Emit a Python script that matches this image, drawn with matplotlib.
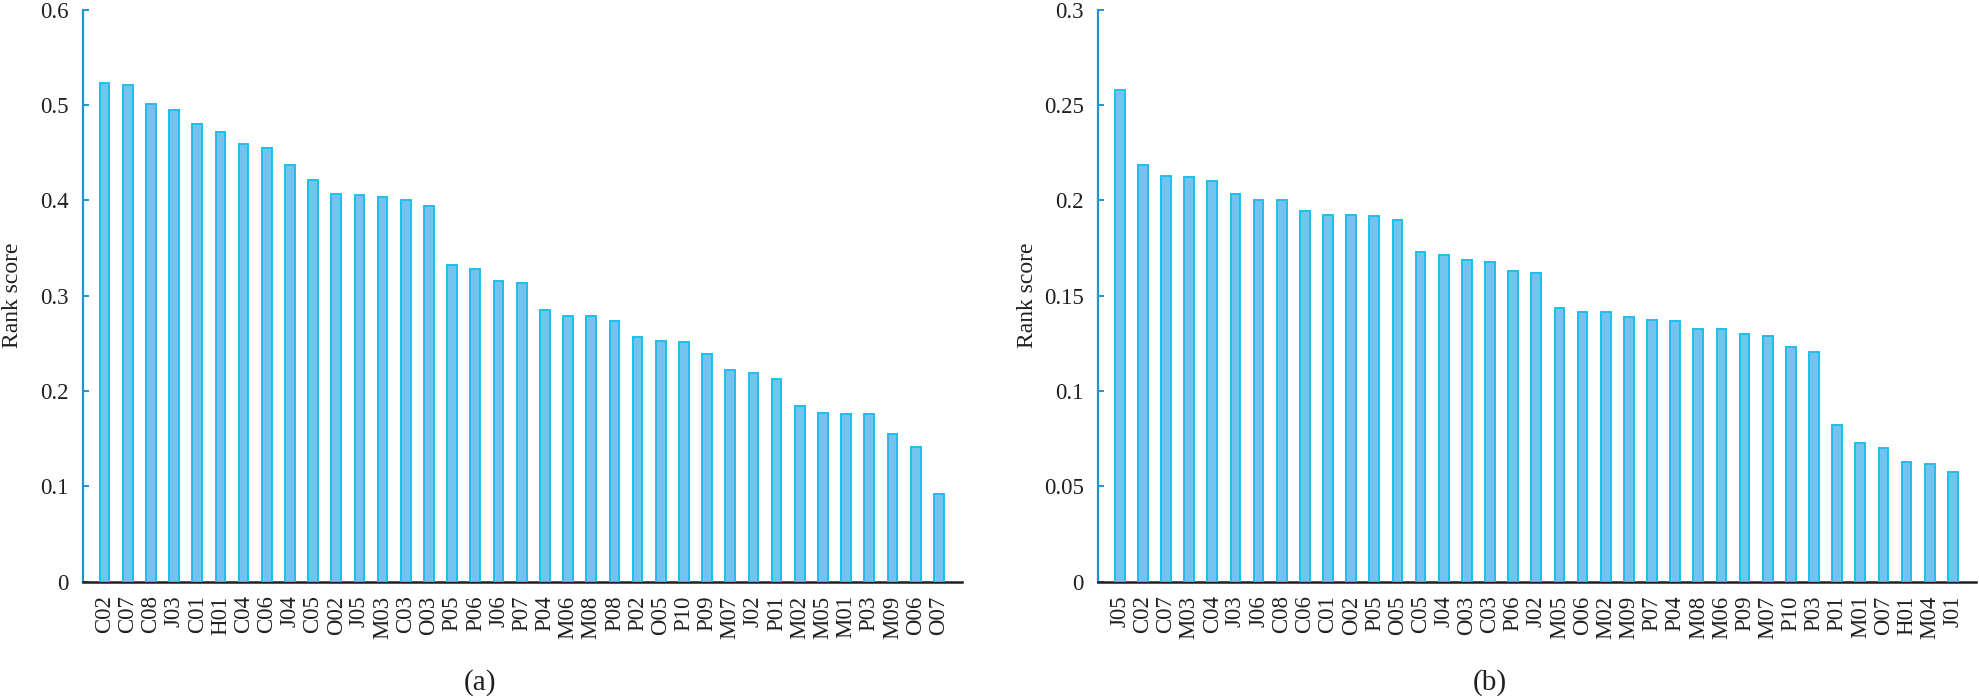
import matplotlib
matplotlib.use("Agg")
import matplotlib.pyplot as plt
import numpy as np

plt.rcParams['font.family'] = ['Liberation Serif', 'DejaVu Serif']

# panel (a)
labels_a = ["C02", "C07", "C08", "J03", "C01", "H01", "C04", "C06", "J04", "C05",
            "O02", "J05", "M03", "C03", "O03", "P05", "P06", "J06", "P07", "P04",
            "M06", "M08", "P08", "P02", "O05", "P10", "P09", "M07", "J02", "P01",
            "M02", "M05", "M01", "P03", "M09", "O06", "O07"]
scores_a = [0.523, 0.521, 0.501, 0.495, 0.480, 0.472, 0.459, 0.455, 0.437, 0.421,
            0.407, 0.406, 0.404, 0.400, 0.394, 0.332, 0.328, 0.316, 0.313, 0.285,
            0.279, 0.279, 0.273, 0.257, 0.252, 0.251, 0.239, 0.222, 0.219, 0.213,
            0.184, 0.177, 0.176, 0.176, 0.155, 0.141, 0.092]
yticks_a = [0, 0.1, 0.2, 0.3, 0.4, 0.5, 0.6]
yticklabels_a = ["0", "0.1", "0.2", "0.3", "0.4", "0.5", "0.6"]

# panel (b)
labels_b = ["J05", "C02", "C07", "M03", "C04", "J03", "J06", "C08", "C06", "C01",
            "O02", "P05", "O05", "C05", "J04", "O03", "C03", "P06", "J02", "M05",
            "O06", "M02", "M09", "P07", "P04", "M08", "M06", "P09", "M07", "P10",
            "P03", "P01", "M01", "O07", "H01", "M04", "J01"]
scores_b = [0.258, 0.2186, 0.2129, 0.2123, 0.2102, 0.2034, 0.2003, 0.2003, 0.1945, 0.1924,
            0.1924, 0.1919, 0.1898, 0.1730, 0.1714, 0.1688, 0.1677, 0.1630, 0.1619, 0.1436,
            0.1415, 0.1415, 0.1388, 0.1373, 0.1367, 0.1325, 0.1325, 0.1299, 0.1289, 0.1231,
            0.1205, 0.0822, 0.0727, 0.0701, 0.0627, 0.0617, 0.0575]
yticks_b = [0, 0.05, 0.1, 0.15, 0.2, 0.25, 0.3]
yticklabels_b = ["0", "0.05", "0.1", "0.15", "0.2", "0.25", "0.3"]

face = '#73C3EE'
edge = '#1EBEEA'
spine_blue = '#1A96D4'
dark = '#231F20'


def draw_panel(ax, labels, scores, yticks, yticklabels, ymax):
    x = np.arange(len(labels))
    ax.bar(x, scores, width=0.42, color=face, edgecolor=edge, linewidth=1.4, zorder=3)
    ax.set_xlim(-0.95, len(labels))
    ax.set_ylim(0, ymax)
    ax.set_xticks(x)
    ax.set_xticklabels(labels, rotation=90, fontsize=16.5, color=dark)
    ax.set_yticks(yticks)
    ax.set_yticklabels(yticklabels, fontsize=16.5, color=dark)
    ax.spines['top'].set_visible(False)
    ax.spines['right'].set_visible(False)
    ax.spines['left'].set_color(spine_blue)
    ax.spines['left'].set_linewidth(1.6)
    ax.spines['bottom'].set_color(dark)
    ax.spines['bottom'].set_linewidth(1.8)
    ax.tick_params(axis='y', direction='in', length=4, width=1.4, color=spine_blue, pad=10)
    ax.tick_params(axis='x', direction='in', length=4, width=1.4, color=dark, pad=10)
    ax.set_ylabel('Rank score', fontsize=17, color=dark)
    ax.yaxis.set_label_coords(-0.068, 0.5)


fig = plt.figure(figsize=(19.79, 6.98), dpi=100)
ax_a = fig.add_axes([0.0417, 0.1669, 0.4444, 0.8188])
ax_b = fig.add_axes([0.5547, 0.1669, 0.4438, 0.8188])

draw_panel(ax_a, labels_a, scores_a, yticks_a, yticklabels_a, 0.6)
draw_panel(ax_b, labels_b, scores_b, yticks_b, yticklabels_b, 0.3)

fig.text(480 / 1979, 15 / 698, '(a)', fontsize=21, ha='center', va='center', color=dark)
fig.text(1490 / 1979, 15 / 698, '(b)', fontsize=21, ha='center', va='center', color=dark)

plt.savefig('out.png', dpi=100)
